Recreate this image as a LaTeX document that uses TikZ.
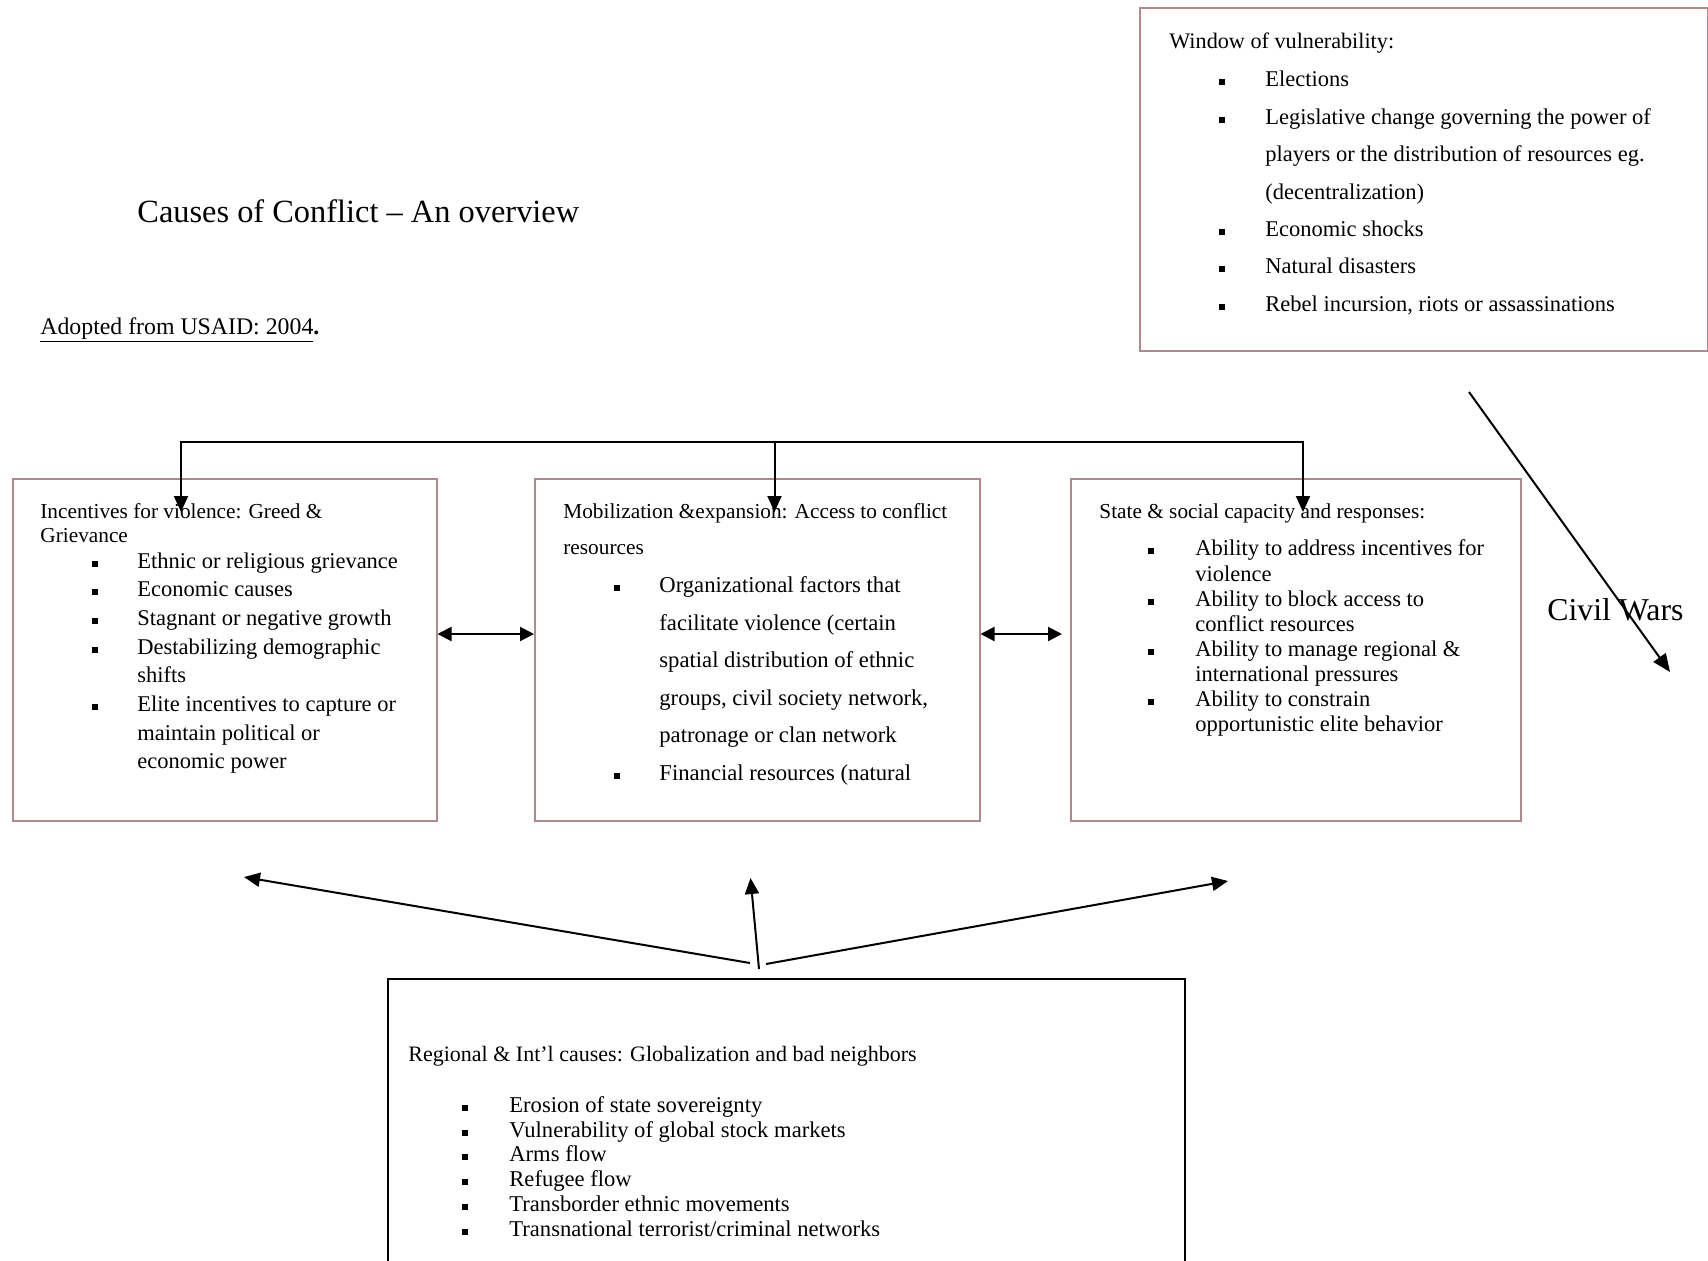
\documentclass[tikz,border=0pt]{standalone}
\usepackage{fontspec}
\setmainfont{Liberation Serif}
\usetikzlibrary{arrows.meta,calc}
\definecolor{boxred}{RGB}{176,138,138}
\begin{document}
\begin{tikzpicture}[x=0.5pt,y=-0.5pt,
  redbox/.style={draw=boxred,line width=0.75pt,inner sep=0pt,anchor=north west},
  head/.style={anchor=mid west,inner sep=0pt,yshift=-2pt,font=\fontsize{10.65}{12}\selectfont},
  body/.style={anchor=mid west,inner sep=0pt,yshift=-2pt,font=\fontsize{11.25}{13}\selectfont},
  bbody/.style={anchor=mid west,inner sep=0pt,yshift=-2pt,font=\fontsize{11.3}{13}\selectfont},
  bul/.style={fill=black,rectangle,minimum size=3pt,inner sep=0pt,yshift=-2pt},
  arr/.style={line width=1pt,-{Triangle[length=8pt,width=7pt]}},
  darr/.style={line width=1pt,{Triangle[length=7pt,width=7pt]}-{Triangle[length=7pt,width=7pt]}},
]
\useasboundingbox (0,0) rectangle (1708,1260);

% title and source
\node[anchor=base west,inner sep=0pt,font=\fontsize{16.2}{18}\selectfont] (title) at (137,222) {Causes of Conflict -- An overview};
\node[anchor=base west,inner sep=0pt,font=\fontsize{11.9}{14}\selectfont] (src) at (40,334) {\underline{Adopted from USAID: 2004}\textbf{.}};

% window of vulnerability
\node[redbox,minimum width=284pt,minimum height=171.5pt] (win) at (1139,7) {};
\node[head,font=\fontsize{11.1}{13}\selectfont] (winh) at (1169,40) {Window of vulnerability:};
\foreach \y/\t [count=\i] in {78/Elections, 115.5/Legislative change governing the power of,
  152.5/players or the distribution of resources eg., 190.6/(decentralization),
  227.7/Economic shocks, 264.7/Natural disasters, {302.8/Rebel incursion, riots or assassinations}}
  \node[body,name=wt\i] at (1265,\y) {\t};
\foreach \y [count=\i] in {78,115.5,227.7,264.7,302.8}
  \node[bul,name=wb\i] at (1222,\y) {};

% box 1
\node[redbox,minimum width=212pt,minimum height=171pt] (b1) at (12,478) {};
\node[head] (b1h1) at (40,510) {Incentives for violence: Greed \&};
\node[head] (b1h2) at (40,534) {Grievance};
\foreach \y/\t [count=\i] in {560/Ethnic or religious grievance, 588/Economic causes,
  616.5/Stagnant or negative growth, 646/Destabilizing demographic, 674/shifts,
  702.5/Elite incentives to capture or, 732/maintain political or, 760/economic power}
  \node[body,name=b1t\i] at (137,\y) {\t};
\foreach \y [count=\i] in {560,588,616.5,646,702.5}
  \node[bul,name=b1b\i] at (95,\y) {};

% box 2
\node[redbox,minimum width=222.5pt,minimum height=171pt] (b2) at (534,478) {};
\node[head] (b2h1) at (563,510) {Mobilization \&expansion: Access to conflict};
\node[head] (b2h2) at (563,546) {resources};
\foreach \y/\t [count=\i] in {584/Organizational factors that, 622/facilitate violence (certain,
  659/spatial distribution of ethnic, {697/groups, civil society network,},
  734/patronage or clan network, 772/Financial resources (natural}
  \node[body,name=b2t\i,font=\fontsize{11.33}{13}\selectfont] at (659,\y) {\t};
\foreach \y [count=\i] in {584,772}
  \node[bul,name=b2b\i] at (617,\y) {};

% box 3
\node[redbox,minimum width=225pt,minimum height=171pt] (b3) at (1070,478) {};
\node[head] (b3h) at (1099,510) {State \& social capacity and responses:};
\foreach \y/\t [count=\i] in {547/Ability to address incentives for, 573/violence,
  598/Ability to block access to, 623/conflict resources,
  648/Ability to manage regional \&, 673/international pressures,
  698/Ability to constrain, 723/opportunistic elite behavior}
  \node[body,name=b3t\i] at (1195,\y) {\t};
\foreach \y [count=\i] in {547,598,648,698}
  \node[bul,name=b3b\i] at (1151,\y) {};

% bottom box (runs off the page)
\node[inner sep=0pt,anchor=north west,minimum width=398pt,minimum height=160pt] (bb) at (388,979) {};
\draw[line width=1pt] (bb.south west) -- (bb.north west) -- (bb.north east) -- (bb.south east);
\node[head,font=\fontsize{11}{13}\selectfont] (bbh) at (408,1053) {Regional \& Int’l causes: Globalization and bad neighbors};
\foreach \y/\t [count=\i] in {1103.5/{Erosion of state sovereignty}, 1128.5/{Vulnerability of global stock markets},
  1152.5/{Arms flow}, 1177.5/{Refugee flow}, 1202.5/{Transborder ethnic movements},
  1227.6/{Transnational terrorist/criminal networks}}
  \node[bbody,name=bbt\i] at (509,\y) {\t};
\foreach \y [count=\i] in {1103.5,1128.5,1152.5,1177.5,1202.5,1227.6}
  \node[bul,name=bbb\i] at (465,\y) {};

% Civil Wars
\node[anchor=base west,inner sep=0pt,font=\fontsize{15.9}{18}\selectfont] (cw) at (1547,620) {Civil Wars};

% connectors
\coordinate (tb) at (774.5,442);
\coordinate (t1) at (181,512);
\coordinate (t2) at (774.5,512);
\coordinate (t3) at (1303,512);
\draw[arr] (tb) -| (t1);
\draw[arr] (tb) -| (t3);
\draw[arr] (tb) -- (t2);

\draw[darr] (b1.east |- 0,634) -- (b2.west |- 0,634);
\coordinate (d2) at (1062,634);
\draw[darr] (b2.east |- 0,634) -- (d2);

\coordinate (cwa) at (1469,392);
\coordinate (cwb) at (1670,672);
\draw[line width=1pt,-{Triangle[length=9pt,width=7.5pt]}] (cwa) -- (cwb);

\coordinate (bt1) at (750,963);
\coordinate (bt2) at (759,969);
\coordinate (bt3) at (766,964);
\coordinate (bl) at (244,877);
\coordinate (bm) at (750.5,878);
\coordinate (br) at (1228,881);
\draw[arr] (bt1) -- (bl);
\draw[arr] (bt2) -- (bm);
\draw[arr] (bt3) -- (br);
\end{tikzpicture}
\end{document}
